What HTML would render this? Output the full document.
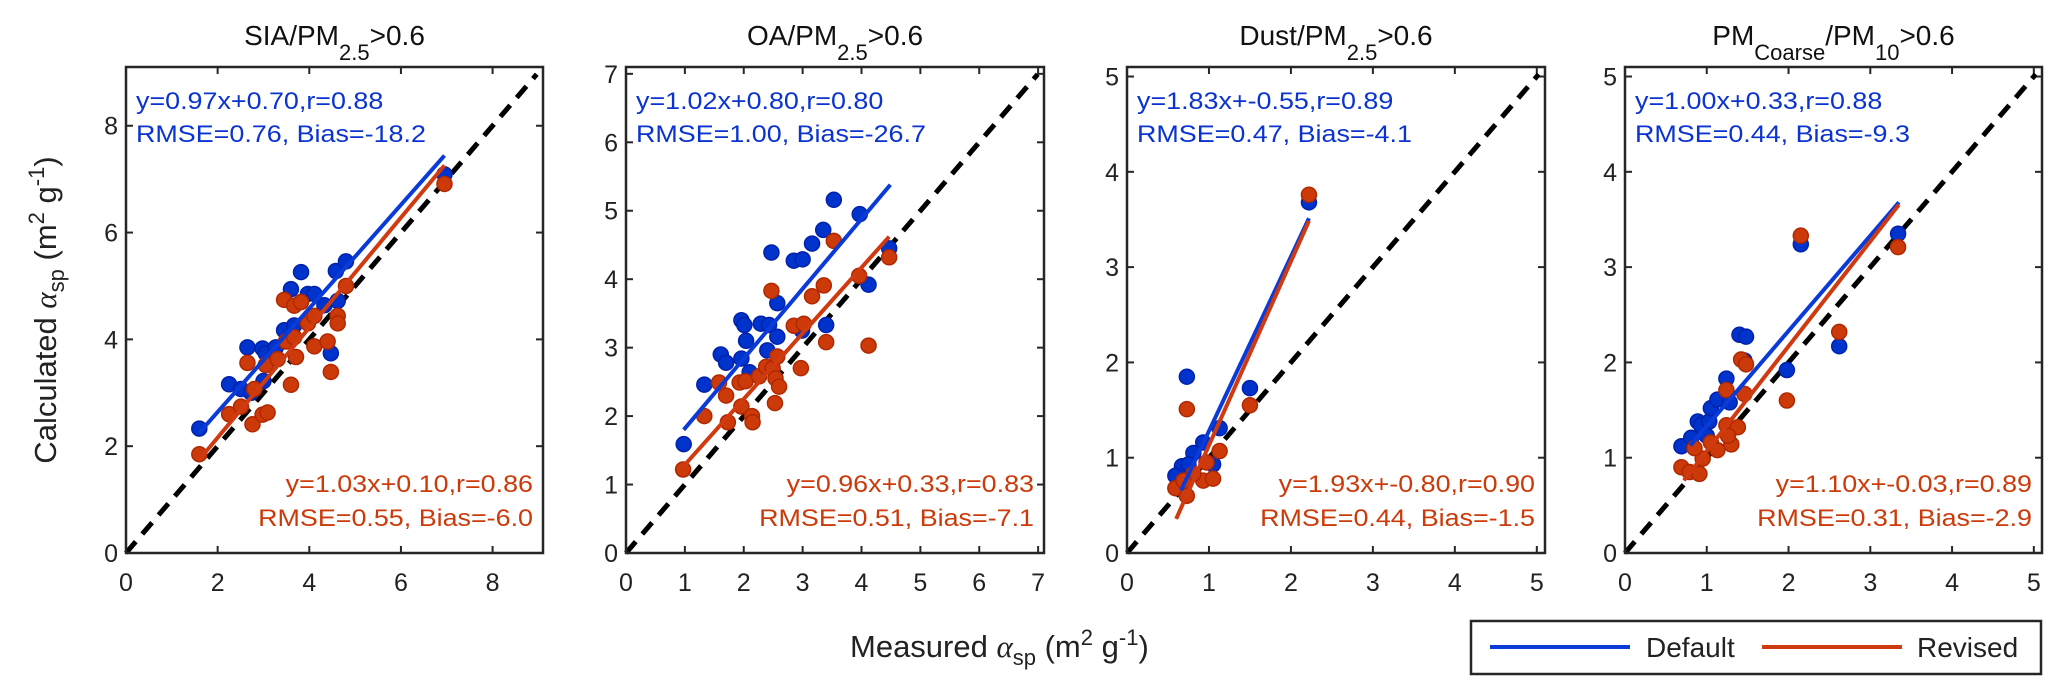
<!DOCTYPE html>
<html><head><meta charset="utf-8"><style>
html,body{margin:0;padding:0;background:#fff;}
svg{display:block;font-family:"Liberation Sans",Arial,sans-serif;}
</style></head><body>
<svg id="fig" width="2067" height="699" viewBox="0 0 2067 699" xmlns="http://www.w3.org/2000/svg"></svg>
<script>
// ---- data (x = measured, y = calculated) ----
const p1BlueX=[1.6,2.25,2.51,2.65,2.98,3.05,2.73,3.0,3.27,3.45,3.6,3.82,3.97,4.11,4.33,4.62,4.47,4.58,4.8,6.95,3.67];
const p1BlueY=[2.33,3.16,3.07,3.85,3.83,3.74,3.0,3.22,3.85,4.17,4.94,5.26,4.85,4.85,4.64,4.72,3.74,5.28,5.46,7.09,4.26];
const p1RedX=[1.6,2.25,2.51,2.65,2.76,2.8,2.98,3.09,3.05,3.31,3.45,3.67,3.82,3.49,3.67,3.71,3.6,3.97,4.11,4.11,4.4,4.62,4.62,4.47,4.8,6.95];
const p1RedY=[1.85,2.6,2.74,3.56,2.41,3.07,2.59,2.63,3.52,3.63,4.74,4.63,4.7,3.96,4.04,3.67,3.15,4.3,4.44,3.87,3.96,4.44,4.3,3.39,5.0,6.91];
const p2BlueX=[0.98,1.33,1.61,1.7,1.96,1.96,2.01,2.04,2.1,2.29,2.43,2.4,2.57,2.47,2.57,2.85,3.0,3.16,3.35,2.99,3.4,3.53,3.97,4.47,4.12];
const p2BlueY=[1.59,2.46,2.9,2.78,2.84,3.4,3.33,3.1,2.64,3.35,3.33,2.96,3.16,4.39,3.65,4.27,4.29,4.52,4.72,3.25,3.33,5.16,4.95,4.45,3.92];
const p2RedX=[0.97,1.33,1.58,1.7,1.73,1.93,2.03,1.96,2.14,2.15,2.26,2.38,2.49,2.47,2.54,2.6,2.53,2.57,2.85,3.02,2.97,3.16,3.36,3.4,3.53,4.47,3.96,4.12];
const p2RedY=[1.22,2.0,2.49,2.3,1.91,2.49,2.51,2.14,2.0,1.91,2.58,2.72,2.7,3.83,2.55,2.43,2.19,2.87,3.32,3.35,2.7,3.75,3.91,3.08,4.56,4.32,4.05,3.03];
const p3BlueX=[0.73,1.5,1.13,2.22,0.93,0.81,0.67,0.59,1.05,0.75];
const p3BlueY=[1.85,1.73,1.31,3.68,1.16,1.05,0.91,0.81,0.93,0.93];
const p3RedX=[0.73,1.5,2.22,1.13,0.59,0.73,0.93,1.05,0.81,0.97,0.69];
const p3RedY=[1.51,1.55,3.76,1.07,0.68,0.6,0.76,0.78,0.83,0.95,0.76];
const p4BlueX=[0.69,0.81,0.89,0.93,1.03,1.05,1.13,1.24,1.28,1.4,1.48,1.46,1.98,2.15,2.62,3.34,1.0];
const p4BlueY=[1.12,1.21,1.38,1.34,1.38,1.52,1.61,1.83,1.58,2.29,2.27,2.02,1.92,3.24,2.17,3.35,1.23];
const p4RedX=[0.69,0.79,0.91,0.95,0.85,1.05,1.13,1.24,1.3,1.38,1.24,1.46,1.42,1.48,1.98,2.15,2.62,3.34,1.26];
const p4RedY=[0.9,0.85,0.83,0.99,1.1,1.16,1.08,1.34,1.14,1.32,1.71,1.67,2.03,1.98,1.6,3.33,2.32,3.21,1.23];
// fit lines: [slope, intercept, xStart, xEnd]
const fitBlue=[[0.97,0.70,1.6,6.95],[1.02,0.80,0.98,4.49],[1.83,-0.55,0.66,2.22],[1.00,0.33,0.8,3.35]];
const fitRed=[[1.03,0.10,1.6,6.95],[0.96,0.33,0.97,4.47],[1.93,-0.80,0.6,2.22],[1.10,-0.03,0.72,3.35]];
const axisMax=[9.1,7.1,5.1,5.1];
const tickVals=[[0,2,4,6,8],[0,1,2,3,4,5,6,7],[0,1,2,3,4,5],[0,1,2,3,4,5]];
const blueText=[["y=0.97x+0.70,r=0.88","RMSE=0.76, Bias=-18.2"],["y=1.02x+0.80,r=0.80","RMSE=1.00, Bias=-26.7"],["y=1.83x+-0.55,r=0.89","RMSE=0.47, Bias=-4.1"],["y=1.00x+0.33,r=0.88","RMSE=0.44, Bias=-9.3"]];
const redText=[["y=1.03x+0.10,r=0.86","RMSE=0.55, Bias=-6.0"],["y=0.96x+0.33,r=0.83","RMSE=0.51, Bias=-7.1"],["y=1.93x+-0.80,r=0.90","RMSE=0.44, Bias=-1.5"],["y=1.10x+-0.03,r=0.89","RMSE=0.31, Bias=-2.9"]];

const NS="http://www.w3.org/2000/svg";
const svg=document.getElementById('fig');
function mk(tag,attrs,parent){const e=document.createElementNS(NS,tag);for(const k in attrs)e.setAttribute(k,attrs[k]);(parent||svg).appendChild(e);return e;}
const BLUE="#0a33d0",RED="#cc3a0a";
const frames=[[126,543],[626,1044],[1127,1545],[1625,2042]];
const TOP=67,BOT=553;
const titles=[["SIA/PM","2.5",">0.6",""],["OA/PM","2.5",">0.6",""],["Dust/PM","2.5",">0.6",""],["PM","Coarse","/PM","10"]];
const blues=[[p1BlueX,p1BlueY],[p2BlueX,p2BlueY],[p3BlueX,p3BlueY],[p4BlueX,p4BlueY]];
const reds=[[p1RedX,p1RedY],[p2RedX,p2RedY],[p3RedX,p3RedY],[p4RedX,p4RedY]];

function stretch(t,f){const w=t.getComputedTextLength();t.setAttribute('textLength',(w*f).toFixed(1));t.setAttribute('lengthAdjust','spacingAndGlyphs');}

for(let i=0;i<4;i++){
  const L=frames[i][0],R=frames[i][1],M=axisMax[i];
  const sx=v=>L+(v/M)*(R-L), sy=v=>BOT-(v/M)*(BOT-TOP);
  const g=mk('g',{});
  
  
  const cx=(L+R)/2;
  const tt=mk('text',{x:cx,y:45,'text-anchor':'middle','font-size':28,fill:'#111'},g);
  
  
  const t=titles[i];
  tt.appendChild(document.createTextNode(t[0]));
  mk('tspan',{'font-size':22,dy:15},tt).textContent=t[1];
  mk('tspan',{dy:-15},tt).textContent=t[2];
  if(i===3){
    mk('tspan',{'font-size':22,dy:15},tt).textContent=t[3];
    mk('tspan',{dy:-15},tt).textContent=">0.6";
  }
  tickVals[i].forEach(v=>{
    const X=sx(v),Y=sy(v);
    mk('line',{x1:X,y1:BOT,x2:X,y2:BOT-7,stroke:'#262626','stroke-width':2},g);
    mk('line',{x1:X,y1:TOP,x2:X,y2:TOP+7,stroke:'#262626','stroke-width':2},g);
    mk('line',{x1:L,y1:Y,x2:L+7,y2:Y,stroke:'#262626','stroke-width':2},g);
    mk('line',{x1:R,y1:Y,x2:R-7,y2:Y,stroke:'#262626','stroke-width':2},g);
    const xl=mk('text',{x:X,y:591,'text-anchor':'middle','font-size':25,fill:'#222'},g);
    xl.textContent=v;
    
    
    const yl=mk('text',{x:L-8,y:Y+9,'text-anchor':'end','font-size':25,fill:'#222'},g);
    yl.textContent=v;
    
    
  });
  const d=mk('line',{x1:sx(0),y1:sy(0),x2:sx(M*0.985),y2:sy(M*0.985),stroke:'#000','stroke-width':5,'stroke-dasharray':'15 10'},g);
  
  
  const bp=blues[i], rp=reds[i];
  bp[0].forEach((x,k)=>{const c=mk('circle',{cx:sx(x),cy:sy(bp[1][k]),r:7.5,fill:'#0033cc',stroke:'#0022aa','stroke-width':1.5},g);
    
    });
  rp[0].forEach((x,k)=>{const c=mk('circle',{cx:sx(x),cy:sy(rp[1][k]),r:7.5,fill:'#cc3a0a',stroke:'#b02800','stroke-width':1.5},g);
    
    });
  const fb=fitBlue[i], fr=fitRed[i];
  const lb=mk('line',{x1:sx(fb[2]),y1:sy(fb[0]*fb[2]+fb[1]),x2:sx(fb[3]),y2:sy(fb[0]*fb[3]+fb[1]),stroke:'#0a3ad8','stroke-width':4},g);
  
  
  const lr=mk('line',{x1:sx(fr[2]),y1:sy(fr[0]*fr[2]+fr[1]),x2:sx(fr[3]),y2:sy(fr[0]*fr[3]+fr[1]),stroke:'#d03a10','stroke-width':4},g);
  
  
  const fr2=mk('rect',{x:L,y:TOP,width:R-L,height:BOT-TOP,fill:'none',stroke:'#262626','stroke-width':2.5},g);
  
  
  [[blueText[i],BLUE,L+10,'start',[109,142]],[redText[i],RED,R-10,'end',[492,526]]].forEach(a=>{
    a[0].forEach((s,k)=>{
      const te=mk('text',{x:a[2],y:a[4][k],'text-anchor':a[3],'font-size':24,fill:a[1]},g);
      te.textContent=s;
      
      
      stretch(te,1.12);
    });
  });
}
const yl=mk('text',{x:0,y:0,'text-anchor':'middle','font-size':31,fill:'#222',transform:'translate(56,310) rotate(-90)'});


yl.appendChild(document.createTextNode('Calculated '));
mk('tspan',{'font-family':'"Liberation Serif",serif','font-style':'italic'},yl).textContent='α';
mk('tspan',{'font-size':22,dy:8},yl).textContent='sp';
mk('tspan',{dy:-8},yl).textContent=' (m';
mk('tspan',{'font-size':22,dy:-12},yl).textContent='2';
mk('tspan',{dy:12},yl).textContent=' g';
mk('tspan',{'font-size':22,dy:-12},yl).textContent='-1';
mk('tspan',{dy:12},yl).textContent=')';
const xlab=mk('text',{x:850,y:657,'font-size':31,fill:'#222'});


xlab.appendChild(document.createTextNode('Measured '));
mk('tspan',{'font-family':'"Liberation Serif",serif','font-style':'italic'},xlab).textContent='α';
mk('tspan',{'font-size':22,dy:8},xlab).textContent='sp';
mk('tspan',{dy:-8},xlab).textContent=' (m';
mk('tspan',{'font-size':22,dy:-12},xlab).textContent='2';
mk('tspan',{dy:12},xlab).textContent=' g';
mk('tspan',{'font-size':22,dy:-12},xlab).textContent='-1';
mk('tspan',{dy:12},xlab).textContent=')';
const lg=mk('g',{});


mk('rect',{x:1471,y:621,width:570,height:53,fill:'#fff',stroke:'#262626','stroke-width':2.5},lg);
const e1=mk('g',{},lg);


mk('line',{x1:1490,y1:647,x2:1630,y2:647,stroke:'#0a3ad8','stroke-width':4},e1);
const d1=mk('text',{x:1646,y:657,'font-size':28,fill:'#222'},e1);d1.textContent='Default';
const e2=mk('g',{},lg);


mk('line',{x1:1762,y1:647,x2:1902,y2:647,stroke:'#d03a10','stroke-width':4},e2);
const d2=mk('text',{x:1917,y:657,'font-size':28,fill:'#222'},e2);d2.textContent='Revised';
</script>
</body></html>
